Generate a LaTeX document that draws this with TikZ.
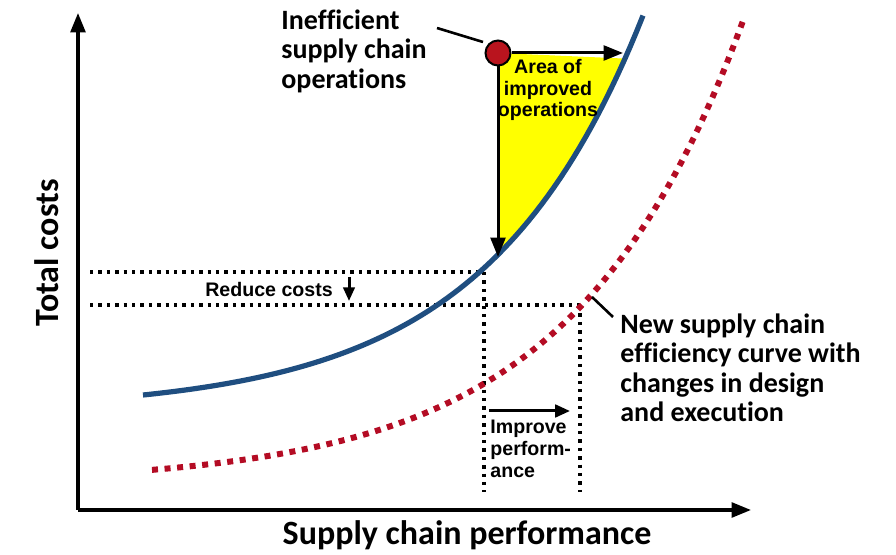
\documentclass[tikz,border=0pt]{standalone}
\usepackage{fontspec}
\setmainfont{Carlito}[Ligatures=NoCommon]
\newfontfamily\arialfont{Liberation Sans}
\usetikzlibrary{arrows.meta,positioning,calc}
\definecolor{curveblue}{RGB}{31,78,128}
\definecolor{curvered}{RGB}{180,12,36}
\definecolor{dotred}{RGB}{185,20,30}
\definecolor{areayellow}{RGB}{255,255,0}
\tikzset{
  >={Triangle[length=3.4mm,width=2.6mm]},
  axis/.style={->,line width=1.6pt},
  guide/.style={line width=1.7pt,dash pattern=on 1.7pt off 2.5pt},
  oldcurve/.style={draw=curveblue,line width=2.6pt},
  newcurve/.style={draw=curvered,line width=3pt,dash pattern=on 3pt off 3.3pt},
  move/.style={->,line width=1.5pt},
  leader/.style={line width=1.3pt},
  callout/.style={font=\fontsize{14}{14.8}\selectfont\bfseries,align=left,inner sep=0pt},
  axislabel/.style={font=\fontsize{17}{18}\selectfont\bfseries,inner sep=0pt},
  note/.style={font=\arialfont\bfseries\fontsize{9.8}{10.8}\selectfont,inner sep=0pt},
}
% cost curves, in pixel units of the picture
\newcommand{\oldcost}[1]{510-98.8-16.18*exp(0.0064*((#1)-143))}
\newcommand{\newcost}[1]{510-26-13.96*exp(0.0059*((#1)-150))}

\begin{document}
\begin{tikzpicture}[x=0.5pt,y=-0.5pt]
  \useasboundingbox (0,0) rectangle (896,555);

  \coordinate (origin) at (78,510);
  \coordinate (ytop) at (78,13);
  \coordinate (xend) at (751,510);

  % area of improved operations
  \fill[areayellow] plot[domain=498:625,samples=40] (\x,{\oldcost{\x}}) -- (498,53) -- cycle;

  % guide lines
  \coordinate (oldpt) at (484,272);
  \coordinate (newpt) at (580,305);
  \coordinate (oldfoot) at (484,492);
  \coordinate (newfoot) at (580,492);
  \draw[guide] (90,272) -- (oldpt);
  \draw[guide] (90,305) -- (newpt);
  \draw[guide] (oldpt) -- (oldfoot);
  \draw[guide] (newpt) -- (newfoot);

  % curves
  \draw[oldcurve] plot[domain=143:643,samples=80] (\x,{\oldcost{\x}});
  \draw[newcurve] plot[domain=152:743,samples=80] (\x,{\newcost{\x}});

  % axes
  \draw[axis] (origin) -- (ytop);
  \draw[axis] (origin) -- (xend);
  \node[axislabel,rotate=90] (ylabel) at (47,253) {Total costs};
  \node[axislabel] (xlabel) at (467,535) {Supply chain performance};

  % inefficient point
  \node[circle,draw=black,line width=1pt,fill=dotred,minimum size=12.5pt,inner sep=0pt] (start) at (498,53) {};
  \coordinate (rightend) at (623,53);
  \coordinate (downend) at (498,257);
  \draw[move] (start.east) -- (rightend);
  \draw[move] (start.south) -- (downend);
  \node[callout,anchor=north west] (ineff) at (281,9) {Inefficient\\supply chain\\operations};
  \coordinate (leadA) at (437,28);
  \coordinate (leadB) at (483,42);
  \draw[leader] (leadA) -- (leadB);
  \node[note,align=center] (area) at (548,90) {Area of\\improved\\operations};

  % reduce costs
  \node[note] (reduce) at (269,289) {Reduce costs};
  \coordinate (rdtop) at (349,277);
  \coordinate (rdbot) at (349,301);
  \draw[move,>={Triangle[length=2.4mm,width=2mm]}] (rdtop) -- (rdbot);

  % improve performance
  \coordinate (imleft) at (489,411);
  \coordinate (imright) at (570,411);
  \draw[move,>={Triangle[length=2.6mm,width=2.2mm]}] (imleft) -- (imright);
  \node[note,align=left,anchor=north west] (improve) at (490,420) {Improve\\perform-\\ance};

  % new curve
  \coordinate (leadC) at (592,297);
  \coordinate (leadD) at (613,317);
  \draw[leader] (leadC) -- (leadD);
  \node[callout,anchor=north west] (newlabel) at (620,313) {New supply chain\\efficiency curve with\\changes in design\\and execution};
\end{tikzpicture}
\end{document}
